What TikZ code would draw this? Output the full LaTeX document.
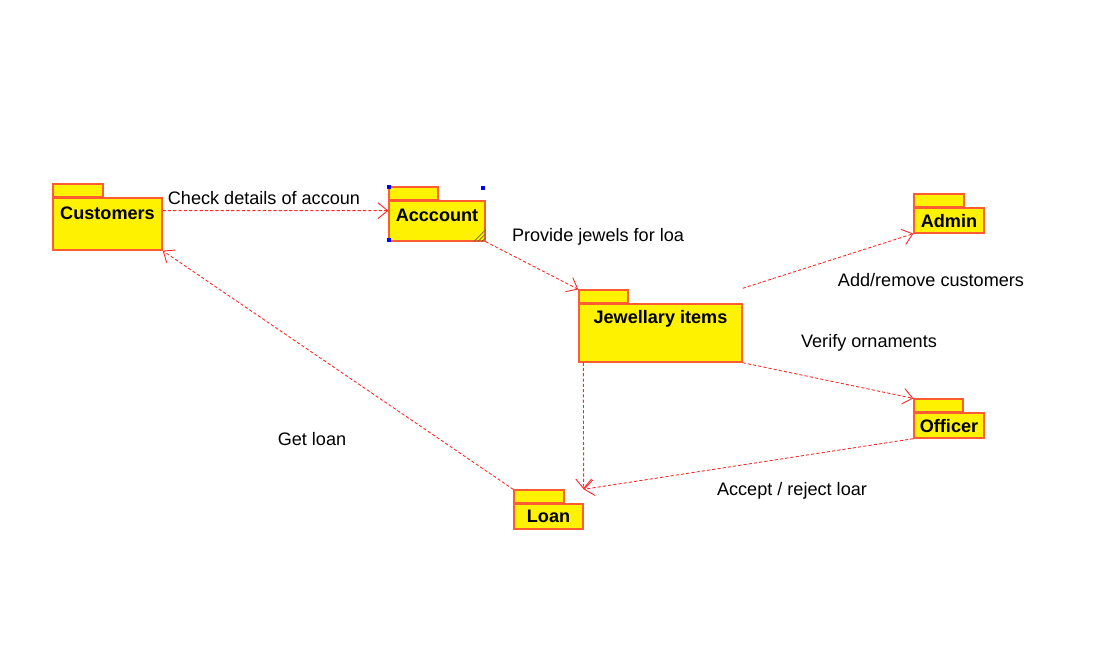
\documentclass[tikz,border=0pt]{standalone}
\usepackage{fontspec}
\setmainfont{Liberation Sans}
\usetikzlibrary{calc,arrows.meta,positioning}

\begin{document}
\begin{tikzpicture}[x=0.02cm,y=-0.02cm,
  pkg/.style={draw=red!60!orange!80, line width=0.8pt, fill=yellow, inner sep=0pt},
  tab/.style={pkg, minimum width=1cm, minimum height=0.25cm, anchor=south west},
  title/.style={anchor=center, yshift=-0.31cm, font=\fontsize{10.3}{12}\selectfont\bfseries},
  dep/.style={draw=red!85, line width=0.5pt, dash pattern=on 1.8pt off 1.2pt,
    -{Straight Barb[length=5.5pt,width=9pt]}},
  txt/.style={font=\fontsize{10.3}{12}\selectfont}]
\useasboundingbox (0,0) rectangle (1100,661);

% packages
\node[pkg, minimum width=2.18cm, minimum height=1.04cm,
  label={[title]north:Customers}] (customers) at (107.5,224) {};
\node[tab] (customerstab) at (customers.north west) {};
\node[pkg, minimum width=1.92cm, minimum height=0.8cm,
  label={[title]north:Acccount}] (account) at (437,221) {};
\node[tab, minimum width=0.98cm] (accounttab) at (account.north west) {};
\node[pkg, minimum width=3.26cm, minimum height=1.16cm,
  label={[title]north:Jewellary items}] (jewels) at (660.5,333) {};
\node[tab, minimum width=0.98cm] (jewelstab) at (jewels.north west) {};
\node[pkg, minimum width=1.4cm, minimum height=0.5cm,
  label={[title,yshift=0.04cm]north:Admin}] (admin) at (949,220.5) {};
\node[tab] (admintab) at (admin.north west) {};
\node[pkg, minimum width=1.4cm, minimum height=0.5cm,
  label={[title,yshift=0.04cm]north:Officer}] (officer) at (949,425.5) {};
\node[tab, minimum width=0.98cm] (officertab) at (officer.north west) {};
\node[pkg, minimum width=1.38cm, minimum height=0.5cm,
  label={[title,yshift=0.04cm]north:Loan}] (loan) at (548.5,516.5) {};
\node[tab] (loantab) at (loan.north west) {};

% hatched corner and selection handles
\foreach \k in {4,8,12}
  \draw[olive!70!black, line width=0.4pt] ($(account.south east)+(-\k,0)$) -- ($(account.south east)+(0,-\k)$);
\foreach \p in {(389,187),(483,188),(389,240)}
  \fill[blue] \p ++(-2,-2) rectangle ++(4,4);

% connection points
\coordinate (custout) at ($(customers.north east)!0.25!(customers.south east)$);
\coordinate (accin) at ($(account.north west)!0.25!(account.south west)$);
\coordinate (jewadmin) at ([yshift=0.3cm]jewels.north east);
\coordinate (jewloan) at ([xshift=0.1cm]jewels.south west);
\coordinate (loanin) at ([yshift=0.28cm]loan.north east);

% dependencies
\draw[dep] (custout) -- (accin);
\draw[dep] (account.south east) -- (jewelstab.north west);
\draw[dep] (jewadmin) -- (admin.south west);
\draw[dep] (jewels.south east) -- (officertab.north west);
\draw[dep] (jewloan) -- (loanin);
\draw[dep] (officer.south west) -- (loanin);
\draw[dep] (loantab.north west) -- (customers.south east);

% labels
\node[txt] (lcheck) at (264,198.5) {Check details of accoun};
\node[txt] (lprovide) at (598,236.5) {Provide jewels for loa};
\node[txt] (ladd) at (931,280.5) {Add/remove customers};
\node[txt] (lverify) at (869,342.5) {Verify ornaments};
\node[txt] (laccept) at (792,490.5) {Accept / reject loar};
\node[txt] (lget) at (312,439.5) {Get loan};
\end{tikzpicture}
\end{document}
